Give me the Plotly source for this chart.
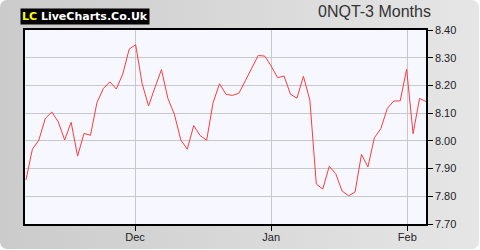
import base64
import plotly.graph_objects as go

prices = [7.859, 7.970, 8.003, 8.081, 8.104, 8.069, 8.003, 8.067, 7.945, 8.027,
          8.020, 8.138, 8.189, 8.213, 8.187, 8.241, 8.331, 8.347, 8.207, 8.126,
          8.193, 8.257, 8.153, 8.096, 8.003, 7.970, 8.055, 8.019, 8.002, 8.138,
          8.206, 8.168, 8.164, 8.172, 8.217, 8.263, 8.308, 8.306, 8.270, 8.228,
          8.234, 8.168, 8.154, 8.233, 8.147, 7.844, 7.826, 7.908, 7.882, 7.819,
          7.802, 7.815, 7.951, 7.906, 8.011, 8.044, 8.117, 8.144, 8.144, 8.258,
          8.026, 8.153, 8.142]
x_idx = list(range(len(prices)))
month_labels = ["Dec", "Jan", "Feb"]
month_pos = [16.9, 38.0, 59.1]
y_ticks = [7.70, 7.80, 7.90, 8.00, 8.10, 8.20, 8.30, 8.40]
title_text = "0NQT-3 Months"

L, R, T, B = 25, 54, 30, 26
W, H = 480, 250
pw, ph = W - L - R, H - T - B

svg = ('<svg xmlns="http://www.w3.org/2000/svg" width="480" height="250">'
       '<defs><linearGradient id="g" x1="0" y1="0" x2="1" y2="0">'
       '<stop offset="0" stop-color="#cbcbcb"/><stop offset="1" stop-color="#e6e6e6"/>'
       '</linearGradient></defs>'
       '<rect x="0" y="0" width="479" height="249" rx="7" ry="7" fill="url(#g)"/>'
       f'<rect x="{L}" y="{T}" width="{pw}" height="{ph}" fill="#f7f8ff"/></svg>')
src = "data:image/svg+xml;base64," + base64.b64encode(svg.encode()).decode()

fig = go.Figure()
fig.add_trace(go.Scatter(x=x_idx, y=prices, mode="lines",
                         line=dict(color="#ff3b3b", width=1), hoverinfo="skip"))

fig.update_layout(
    width=W, height=H,
    margin=dict(l=L, r=R, t=T, b=B, autoexpand=False),
    paper_bgcolor="white",
    plot_bgcolor="rgba(0,0,0,0)",
    showlegend=False,
    font=dict(family="Liberation Sans, Arial", size=11, color="#222222"),
    images=[dict(source=src, xref="paper", yref="paper", x=-L/pw, y=1+T/ph,
                 sizex=W/pw, sizey=H/ph, xanchor="left", yanchor="top",
                 sizing="stretch", layer="below")],
    xaxis=dict(range=[-0.15, 62.0], tickvals=month_pos, ticktext=month_labels,
               showgrid=True, gridcolor="#c8c8c8", gridwidth=1,
               ticks="outside", ticklen=5, tickcolor="black", automargin=False,
               ticklabelstandoff=-3,
               showline=True, linecolor="black", linewidth=1.5, mirror=True,
               zeroline=False, fixedrange=True),
    yaxis=dict(range=[7.70, 8.40], side="right", tickvals=y_ticks,
               ticktext=[f"{v:.2f}" for v in y_ticks], automargin=False,
               showgrid=True, gridcolor="#c8c8c8", gridwidth=1,
               ticks="outside", ticklen=5, tickcolor="black",
               showline=True, linecolor="black", linewidth=1.5, mirror=True,
               zeroline=False, fixedrange=True),
    annotations=[
        dict(text=title_text, xref="paper", yref="paper", x=(433-L)/pw, y=1+8/ph,
             xanchor="right", yanchor="bottom", showarrow=False,
             font=dict(family="Liberation Sans, Arial", size=16, color="#333333")),
        dict(text="<b><span style='color:#ffff00'>LC</span> LiveCharts.Co.Uk</b>",
             xref="paper", yref="paper", x=(20-L)/pw, y=1+(T-8)/ph,
             xanchor="left", yanchor="top", showarrow=False, bgcolor="black",
             borderpad=1,
             font=dict(family="DejaVu Sans", size=11, color="white")),
    ],
)
fig.write_html("out.html")
